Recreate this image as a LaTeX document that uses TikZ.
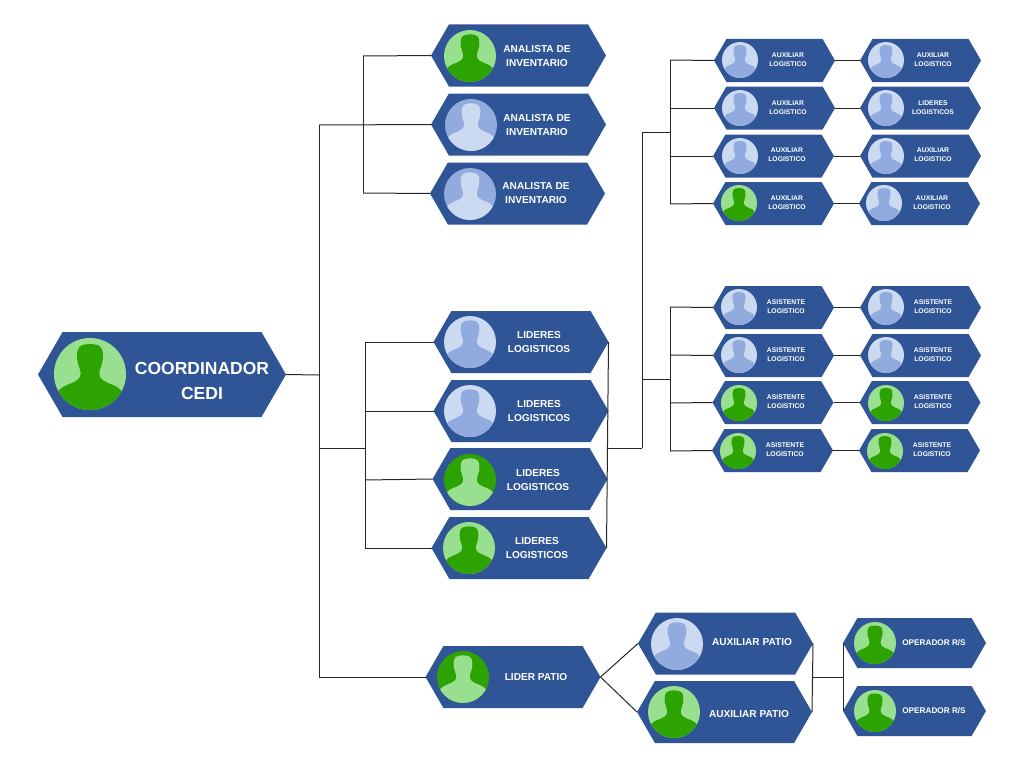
\documentclass[tikz,border=0pt]{standalone}
\usepackage{fontspec}
\setmainfont{Liberation Sans}
\usetikzlibrary{positioning,shapes.symbols}
\definecolor{hexblue}{HTML}{305597}
\definecolor{greenpale}{HTML}{98E08F}
\definecolor{greendark}{HTML}{2CA300}
\definecolor{bluepale}{HTML}{CBD9F1}
\definecolor{bluemid}{HTML}{92ABDF}
\tikzset{%
	hexbase/.style  = {shape=signal, signal to=east and west, signal pointer angle=120,
		fill=hexblue, inner sep=0pt, outer sep=0pt},
	hexl/.style     = {hexbase, minimum width=248, minimum height=85},
	hexm/.style     = {hexbase, minimum width=175, minimum height=62},
	hexo/.style     = {hexbase, minimum width=143, minimum height=50},
	hexs/.style     = {hexbase, minimum width=121, minimum height=43},
	persl/.style    = {scale=36},
	persm/.style    = {scale=26},
	perso/.style    = {scale=21},
	perss/.style    = {scale=18},
	txtbase/.style  = {text=white, align=center, inner sep=0pt, yshift=-1pt},
	txtl/.style     = {txtbase, font=\fontsize{17.5}{25}\bfseries\selectfont},
	txtm/.style     = {txtbase, font=\fontsize{10.1}{13.5}\bfseries\selectfont},
	txto/.style     = {txtbase, font=\fontsize{8.2}{11}\bfseries\selectfont},
	txts/.style     = {txtbase, font=\fontsize{6.8}{9}\bfseries\selectfont},
	link/.style     = {draw=black!85, line width=1pt},
	pics/person/.style 2 args = {code={
		\fill[#1] (0,0) circle (1);
		\begin{scope}
			\clip (0,0) circle (1);
			\fill[#2] (0,-0.83) .. controls (0.28,-0.83) and (0.36,-0.75) .. (0.36,-0.5)
				.. controls (0.36,-0.25) and (0.26,-0.15) .. (0.26,-0.02)
				.. controls (0.26,0.12) and (0.34,0.17) .. (0.48,0.24)
				.. controls (0.68,0.32) and (0.86,0.38) .. (0.92,0.55)
				-- (0.92,1.1) -- (-0.92,1.1) -- (-0.92,0.55)
				.. controls (-0.86,0.38) and (-0.68,0.32) .. (-0.48,0.24)
				.. controls (-0.34,0.17) and (-0.26,0.12) .. (-0.26,-0.02)
				.. controls (-0.26,-0.15) and (-0.36,-0.25) .. (-0.36,-0.5)
				.. controls (-0.36,-0.75) and (-0.28,-0.83) .. (0,-0.83) -- cycle;
		\end{scope}
	}}
}
% #1 name, #2 size, #3 hexagon, #4 avatar, #5 colours, #6 text position, #7 text
\newcommand{\unit}[7]{%
	\node[hex#2] (#1) at (#3) {};
	\pic[pers#2] at (#4) {person=#5};
	\node[txt#2] (#1-t) at (#6) {#7};
}
\begin{document}
\begin{tikzpicture}[x=1pt, y=-1pt]
	\useasboundingbox (0,0) rectangle (1024,768);
	\unit{coord}{l}{162,374.5}{90,374}{{greenpale}{greendark}}{202,380}{COORDINADOR\\CEDI}

	\unit{an1}{m}{518.5,55.5}{470,56}{{greenpale}{greendark}}{537,55}{ANALISTA DE\\INVENTARIO}
	\unit{an2}{m}{518.5,124.5}{471,125}{{bluemid}{bluepale}}{537,124}{ANALISTA DE\\INVENTARIO}
	\unit{an3}{m}{517.5,193.5}{470,194}{{bluemid}{bluepale}}{536,192}{ANALISTA DE\\INVENTARIO}

	\unit{li1}{m}{521,342}{470,342}{{bluepale}{bluemid}}{539,341}{LIDERES\\LOGISTICOS}
	\unit{li2}{m}{521,411}{470,411}{{bluepale}{bluemid}}{539,410}{LIDERES\\LOGISTICOS}
	\unit{li3}{m}{520,479}{470,480}{{greendark}{greenpale}}{538,479}{LIDERES\\LOGISTICOS}
	\unit{li4}{m}{519,548}{469,548}{{greenpale}{greendark}}{537,547}{LIDERES\\LOGISTICOS}

	\unit{lp}{m}{513,677}{463,677}{{greendark}{greenpale}}{536,676}{LIDER PATIO}
	\unit{ap1}{m}{725.5,643.5}{677,644}{{bluepale}{bluemid}}{752,641}{AUXILIAR PATIO}
	\unit{ap2}{m}{724.5,712}{674,712}{{greenpale}{greendark}}{749,713}{AUXILIAR PATIO}
	\unit{op1}{o}{914.5,643}{875,643}{{greenpale}{greendark}}{934,642}{OPERADOR R/S}
	\unit{op2}{o}{914.5,711}{875,711}{{greenpale}{greendark}}{934,710}{OPERADOR R/S}

	\unit{au1}{s}{774.5,60.5}{740,60}{{bluepale}{bluemid}}{788,59}{AUXILIAR\\LOGISTICO}
	\unit{au2}{s}{774.5,108}{740,108}{{bluepale}{bluemid}}{788,107}{AUXILIAR\\LOGISTICO}
	\unit{au3}{s}{773.5,156}{740,156}{{bluepale}{bluemid}}{787,154}{AUXILIAR\\LOGISTICO}
	\unit{au4}{s}{773.5,203.5}{739,203}{{greenpale}{greendark}}{787,202}{AUXILIAR\\LOGISTICO}
	\unit{ar1}{s}{920.5,60.5}{886,60}{{bluepale}{bluemid}}{933,59}{AUXILIAR\\LOGISTICO}
	\unit{ar2}{s}{920.5,108}{886,108}{{bluepale}{bluemid}}{933,107}{LIDERES\\LOGISTICOS}
	\unit{ar3}{s}{920.5,156}{886,156}{{bluepale}{bluemid}}{933,154}{AUXILIAR\\LOGISTICO}
	\unit{ar4}{s}{919.5,203.5}{884,203}{{bluepale}{bluemid}}{932,202}{AUXILIAR\\LOGISTICO}

	\unit{as1}{s}{773.5,307.5}{739,307}{{bluepale}{bluemid}}{786,306}{ASISTENTE\\LOGISTICO}
	\unit{as2}{s}{773.5,355.5}{739,355}{{bluepale}{bluemid}}{786,354}{ASISTENTE\\LOGISTICO}
	\unit{as3}{s}{773,402.5}{739,403}{{greenpale}{greendark}}{786,401}{ASISTENTE\\LOGISTICO}
	\unit{as4}{s}{772.5,450.5}{738,451}{{greenpale}{greendark}}{785,449}{ASISTENTE\\LOGISTICO}
	\unit{sr1}{s}{920.5,307.5}{886,307}{{bluepale}{bluemid}}{933,306}{ASISTENTE\\LOGISTICO}
	\unit{sr2}{s}{920.5,355.5}{886,355}{{bluepale}{bluemid}}{933,354}{ASISTENTE\\LOGISTICO}
	\unit{sr3}{s}{920,402.5}{886,403}{{greenpale}{greendark}}{933,401}{ASISTENTE\\LOGISTICO}
	\unit{sr4}{s}{919.5,450.5}{885,451}{{greenpale}{greendark}}{932,449}{ASISTENTE\\LOGISTICO}

	% junctions
	\coordinate (trunk) at (319,375);
	\coordinate (trunkA) at (319,125);
	\coordinate (trunkL) at (319,448);
	\coordinate (trunkP) at (319,677);
	\coordinate (brA1) at (363,56);
	\coordinate (brA2) at (363,125);
	\coordinate (brA3) at (363,193);
	\coordinate (brL0) at (365,448);
	\coordinate (brL1) at (365,342);
	\coordinate (brL2) at (365,411);
	\coordinate (brL3) at (365,480);
	\coordinate (brL4) at (365,548);
	\coordinate (liOut) at (608,448);
	\coordinate (upA) at (642,132);
	\coordinate (upS) at (642,379);
	\coordinate (upL) at (642,448);
	\coordinate (brU0) at (670,132);
	\coordinate (brU1) at (670,60);
	\coordinate (brU2) at (670,108);
	\coordinate (brU3) at (670,156);
	\coordinate (brU4) at (670,204);
	\coordinate (brS0) at (670,379);
	\coordinate (brS1) at (670,307);
	\coordinate (brS2) at (670,355);
	\coordinate (brS3) at (670,403);
	\coordinate (brS4) at (670,451);
	\coordinate (apOut) at (813,677);
	\coordinate (opIn) at (843,677);

	\draw[link] (coord.east) -- (trunk);
	\draw[link] (trunkA) -- (trunkP);
	\draw[link] (trunkA) -- (an2.west);
	\draw[link] (brA1) -- (brA3);
	\draw[link] (brA1) -- (an1.west);
	\draw[link] (brA3) -- (an3.west);

	\draw[link] (trunkL) -- (brL0);
	\draw[link] (brL1) -- (brL4);
	\draw[link] (brL1) -- (li1.west);
	\draw[link] (brL2) -- (li2.west);
	\draw[link] (brL3) -- (li3.west);
	\draw[link] (brL4) -- (li4.west);
	\draw[link] (trunkP) -- (lp.west);

	\draw[link] (li1.east) -- (li4.east);
	\draw[link] (liOut) -- (upL);
	\draw[link] (upL) -- (upA);
	\draw[link] (upA) -- (brU0);
	\draw[link] (upS) -- (brS0);
	\draw[link] (brU1) -- (brU4);
	\draw[link] (brS1) -- (brS4);
	\draw[link] (brU1) -- (au1.west);
	\draw[link] (brU2) -- (au2.west);
	\draw[link] (brU3) -- (au3.west);
	\draw[link] (brU4) -- (au4.west);
	\draw[link] (brS1) -- (as1.west);
	\draw[link] (brS2) -- (as2.west);
	\draw[link] (brS3) -- (as3.west);
	\draw[link] (brS4) -- (as4.west);
	\draw[link] (au1.east) -- (ar1.west);
	\draw[link] (au2.east) -- (ar2.west);
	\draw[link] (au3.east) -- (ar3.west);
	\draw[link] (au4.east) -- (ar4.west);
	\draw[link] (as1.east) -- (sr1.west);
	\draw[link] (as2.east) -- (sr2.west);
	\draw[link] (as3.east) -- (sr3.west);
	\draw[link] (as4.east) -- (sr4.west);

	\draw[link] (lp.east) -- (ap1.west);
	\draw[link] (lp.east) -- (ap2.west);
	\draw[link] (ap1.east) -- (ap2.east);
	\draw[link] (apOut) -- (opIn);
	\draw[link] (op1.west) -- (op2.west);
\end{tikzpicture}
\end{document}
